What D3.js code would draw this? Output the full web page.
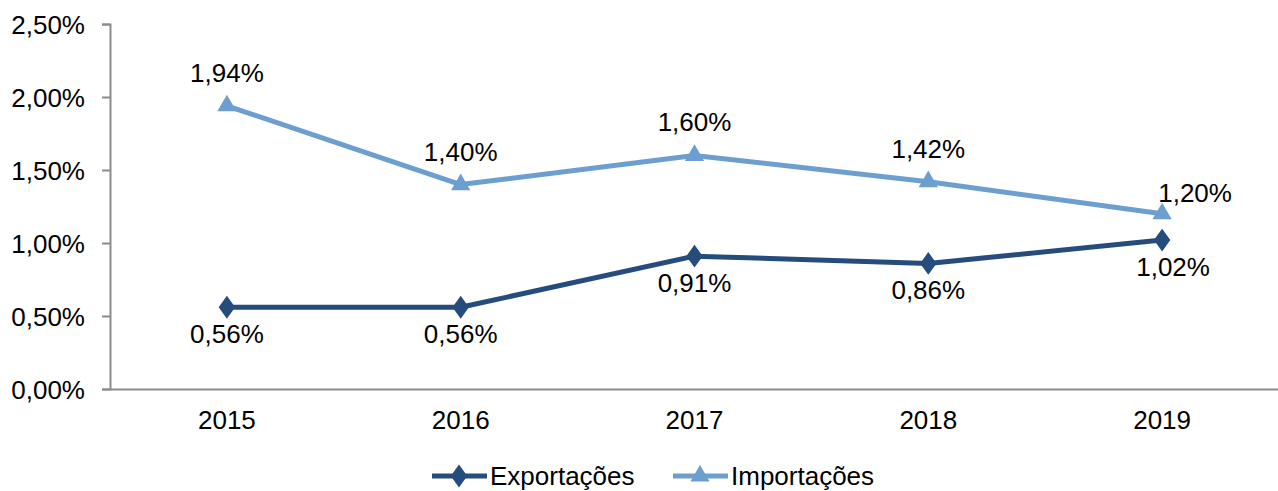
<!DOCTYPE html>
<html>
<head>
<meta charset="utf-8">
<script src="https://cdn.jsdelivr.net/npm/d3@7"></script>
<style>
  body { margin: 0; background: #fff; }
  svg { display: block; font-family: "Liberation Sans", Arial, sans-serif; }
</style>
</head>
<body>
<div id="chart"></div>
<script>
const years = ["2015", "2016", "2017", "2018", "2019"];
const exportacoes = [0.56, 0.56, 0.91, 0.86, 1.02];
const importacoes = [1.94, 1.40, 1.60, 1.42, 1.20];
const yTicks = [0, 0.5, 1.0, 1.5, 2.0, 2.5];

const width = 1278, height = 491;
const fontSize = 26;
const darkBlue = "#264c7d", lightBlue = "#6c9fd0";

const fmt = v => d3.format(".2f")(v).replace(".", ",") + "%";

const x = d3.scaleBand().domain(years).range([110, 1279]).padding(0);
const y = d3.scaleLinear().domain([0, 2.5]).range([389, 24]);

const svg = d3.select("#chart").append("svg")
    .attr("width", width)
    .attr("height", height)
    .attr("font-size", fontSize);

// y axis
const yAxis = svg.append("g")
    .attr("transform", "translate(110,0)")
    .call(d3.axisLeft(y).tickValues(yTicks).tickSize(8).tickPadding(17).tickFormat(fmt));
yAxis.select(".domain").attr("stroke", "#8c8c8c").attr("stroke-width", 2);
yAxis.selectAll(".tick line").attr("stroke", "#8c8c8c").attr("stroke-width", 2);
yAxis.selectAll(".tick text").attr("fill", "#000").attr("font-size", fontSize)
    .attr("font-family", "Liberation Sans, Arial, sans-serif").attr("dy", "0.35em");

// x axis
const xAxis = svg.append("g")
    .attr("transform", "translate(0,389)")
    .call(d3.axisBottom(x).tickSize(0).tickPadding(22));
xAxis.select(".domain").attr("stroke", "#8c8c8c").attr("stroke-width", 2);
xAxis.selectAll(".tick text").attr("fill", "#000").attr("font-size", fontSize)
    .attr("font-family", "Liberation Sans, Arial, sans-serif");

const cx = d => x(d) + x.bandwidth() / 2;

const series = [
  { name: "Exportações", values: exportacoes, color: darkBlue, symbol: d3.symbolDiamond, size: 150, below: true },
  { name: "Importações", values: importacoes, color: lightBlue, symbol: d3.symbolTriangle, size: 160, below: false }
];

const line = d3.line().x(d => cx(d[0])).y(d => y(d[1]));

series.forEach(s => {
  const pts = years.map((yr, i) => [yr, s.values[i]]);
  svg.append("path")
      .datum(pts)
      .attr("fill", "none")
      .attr("stroke", s.color)
      .attr("stroke-width", 5)
      .attr("stroke-linejoin", "round")
      .attr("d", line);

  svg.append("g").selectAll("path")
    .data(pts)
    .join("path")
      .attr("d", d3.symbol().type(s.symbol).size(s.size))
      .attr("transform", d => s.symbol === d3.symbolDiamond
          ? `translate(${cx(d[0])},${y(d[1])}) scale(1.25,1)`
          : `translate(${cx(d[0])},${y(d[1])})`)
      .attr("fill", s.color);

  svg.append("g").selectAll("text")
    .data(pts)
    .join("text")
      .attr("x", (d, i) => cx(d[0]) + (i === pts.length - 1 ? (s.below ? 11 : 33) : 0))
      .attr("y", (d, i) => y(d[1]) + (s.below ? 36 : (i === pts.length - 1 ? -12 : -24)))
      .attr("text-anchor", "middle")
      .attr("fill", "#000")
      .text(d => fmt(d[1]));
});

// legend
const legend = svg.append("g").attr("transform", "translate(0,476)");
const legendX = [432, 673];
series.forEach((s, i) => {
  const g = legend.append("g").attr("transform", `translate(${legendX[i]},0)`);
  g.append("line").attr("x1", 0).attr("x2", 55).attr("stroke", s.color).attr("stroke-width", 5);
  g.append("path")
      .attr("d", d3.symbol().type(s.symbol).size(s.size))
      .attr("transform", s.symbol === d3.symbolDiamond ? "translate(27,0) scale(1.25,1)" : "translate(27,0)")
      .attr("fill", s.color);
  g.append("text").attr("x", 58).attr("y", 9).attr("fill", "#000").text(s.name);
});
</script>
</body>
</html>
